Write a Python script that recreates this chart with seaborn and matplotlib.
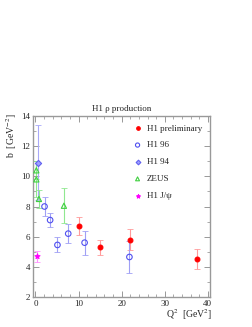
import numpy as np
import pandas as pd
import seaborn as sns
import matplotlib.pyplot as plt
from matplotlib.ticker import MultipleLocator

# H1 preliminary
h1p_q2 = [10.0, 15.0, 21.9, 37.4]
h1p_b = [6.7, 5.3, 5.8, 4.5]
h1p_err = [0.6, 0.5, 0.7, 0.67]

# H1 96
h196_q2 = [2.1, 3.4, 5.1, 7.6, 11.4, 21.8]
h196_b = [8.0, 7.1, 5.45, 6.2, 5.6, 4.65]
h196_err = [0.65, 0.45, 0.5, 0.65, 0.8, 1.05]

# H1 94
h194_q2 = [0.5]
h194_b = [10.9]
h194_err = [2.5]

# ZEUS
zeus_q2 = [0.2, 0.2, 0.8, 6.6]
zeus_b = [10.4, 9.8, 8.5, 8.05]
zeus_err = [0.6, 1.2, 0.6, 1.15]

# H1 J/psi
jpsi_q2 = [0.4]
jpsi_b = [4.7]
jpsi_err = [0.35]

sns.set_style("ticks")
plt.rcParams['font.family'] = ['Liberation Serif', 'DejaVu Serif']
plt.rcParams['mathtext.fontset'] = 'stix'

fig = plt.figure(figsize=(2.53, 3.27), dpi=100)
ax = fig.add_axes([0.130, 0.092, 0.700, 0.553])

# name, x, y, err, marker, face, edge, error colour, size
series = [
    ("H1 preliminary", h1p_q2, h1p_b, h1p_err, "o", "#ff0000", "#ff0000", "#ff9a9a", 12),
    ("H1 96", h196_q2, h196_b, h196_err, "o", "none", "#5050f0", "#a0a0f5", 16),
    ("H1 94", h194_q2, h194_b, h194_err, "D", "#a0a0ff", "#6060f0", "#a8a8f8", 10),
    ("ZEUS", zeus_q2, zeus_b, zeus_err, "^", "none", "#40d040", "#90e890", 14),
    ("H1 J/ψ", jpsi_q2, jpsi_b, jpsi_err, "*", "#ff00ff", "#ff00ff", "#ff90ff", 14),
]

for name, q2, b, err, mk, fc, ec, errc, s in series:
    ax.errorbar(q2, b, yerr=err, fmt="none", ecolor=errc, elinewidth=0.8,
                capsize=2, capthick=0.6, zorder=1)
    df = pd.DataFrame({"Q2": q2, "b": b})
    sns.scatterplot(data=df, x="Q2", y="b", ax=ax, marker=mk, s=s,
                    facecolor=fc, edgecolor=ec, linewidth=0.8, label=name, zorder=3)

ax.set_xlim(-0.6, 40.5)
ax.set_ylim(2, 14)
ax.xaxis.set_major_locator(MultipleLocator(10))
ax.xaxis.set_minor_locator(MultipleLocator(2))
ax.yaxis.set_major_locator(MultipleLocator(2))
ax.yaxis.set_minor_locator(MultipleLocator(1))
ax.tick_params(which="both", direction="in", top=True, right=True,
               labelsize=6.5, color="#888888", pad=2)
ax.tick_params(which="major", length=4, width=0.6)
ax.tick_params(which="minor", length=2, width=0.5)
for sp in ax.spines.values():
    sp.set_color("#999999")
    sp.set_linewidth(1.0)

ax.set_xlabel("")
ax.set_ylabel("")
fig.text(0.047, 0.584, "b  [GeV$^{-2}$]", rotation=90, fontsize=7, ha="center", va="center")
fig.text(0.747, 0.038, "Q$^{2}$  [GeV$^{2}$]", fontsize=7, ha="center", va="center")
ax.set_title("H1 ρ production", fontsize=6.5, pad=4)

ax.legend(loc="upper left", bbox_to_anchor=(0.54, 0.975), frameon=False,
          fontsize=6.5, handletextpad=0.4, labelspacing=0.95, markerscale=0.75,
          handlelength=1.2, borderaxespad=0)

fig.savefig("out.png", dpi=100)
